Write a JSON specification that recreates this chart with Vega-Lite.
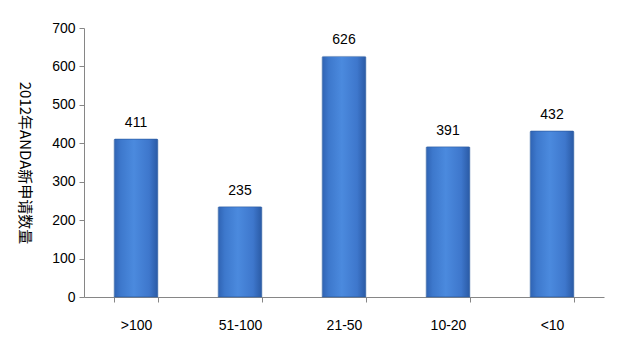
{
  "$schema": "https://vega.github.io/schema/vega-lite/v6.json",
  "width": 520,
  "height": 269,
  "autosize": {"type": "none"},
  "padding": {"left": 84, "top": 28, "right": 15, "bottom": 42},
  "background": "white",
  "config": {
    "view": {"stroke": null},
    "font": "Liberation Sans"
  },
  "data": {
    "values": [
      {"cat": ">100", "value": 411},
      {"cat": "51-100", "value": 235},
      {"cat": "21-50", "value": 626},
      {"cat": "10-20", "value": 391},
      {"cat": "<10", "value": 432}
    ]
  },
  "encoding": {
    "x": {
      "field": "cat",
      "type": "nominal",
      "sort": null,
      "scale": {"paddingInner": 0.58, "paddingOuter": 0.29},
      "axis": {
        "title": null,
        "labelAngle": 0,
        "labelFontSize": 14,
        "labelColor": "#000000",
        "labelPadding": 16,
        "tickBand": "extent",
        "tickSize": 5,
        "tickColor": "#868686",
        "domainColor": "#868686"
      }
    },
    "y": {
      "field": "value",
      "type": "quantitative",
      "scale": {"domain": [0, 700]},
      "axis": {
        "values": [0, 100, 200, 300, 400, 500, 600, 700],
        "grid": false,
        "title": "2012年ANDA新申请数量",
        "titleAngle": 90,
        "titleFontSize": 15,
        "titleFontWeight": "normal",
        "titleColor": "#000000",
        "titleX": -68,
        "titleFont": "Noto Sans CJK SC",
        "labelFontSize": 14,
        "labelColor": "#000000",
        "labelPadding": 4,
        "tickSize": 5,
        "tickColor": "#868686",
        "domainColor": "#868686"
      }
    }
  },
  "layer": [
    {
      "mark": {
        "type": "bar",
        "stroke": "#2f5fa3",
        "strokeWidth": 0.5,
        "cornerRadiusTopLeft": 1,
        "cornerRadiusTopRight": 1,
        "fill": {
          "gradient": "linear",
          "x1": 0, "y1": 0, "x2": 1, "y2": 0,
          "stops": [
            {"offset": 0, "color": "#2f63b3"},
            {"offset": 0.15, "color": "#3d78cc"},
            {"offset": 0.45, "color": "#4b8ade"},
            {"offset": 0.8, "color": "#3e77cc"},
            {"offset": 1, "color": "#2a5aa5"}
          ]
        }
      }
    },
    {
      "mark": {"type": "text", "baseline": "middle", "dy": -16, "fontSize": 14, "color": "#000000"},
      "encoding": {"text": {"field": "value", "type": "quantitative"}}
    }
  ]
}
